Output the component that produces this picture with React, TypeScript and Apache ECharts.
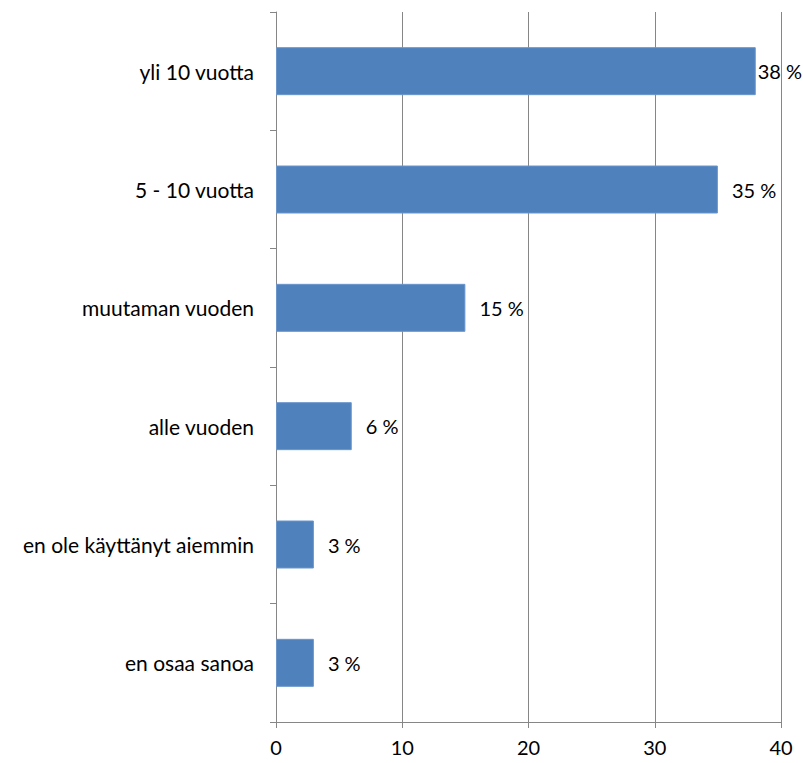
import React, { useEffect, useRef } from "react";
import * as echarts from "echarts";

const categories = [
  "yli 10 vuotta",
  "5 - 10 vuotta",
  "muutaman vuoden",
  "alle vuoden",
  "en ole käyttänyt aiemmin",
  "en osaa sanoa",
];
const values = [38, 35, 15, 6, 3, 3];
const xTicks = [0, 10, 20, 30, 40];

const FONT = "Lato, 'Open Sans', sans-serif";

export default function App() {
  const ref = useRef<HTMLDivElement>(null);
  useEffect(() => {
    const chart = echarts.init(ref.current!, undefined, { renderer: "svg" });
    chart.setOption({
      animation: false,
      grid: { left: 276, right: 22, top: 12, bottom: 41, containLabel: false },
      xAxis: {
        type: "value",
        min: xTicks[0],
        max: xTicks[xTicks.length - 1],
        interval: 10,
        axisLine: { show: true, lineStyle: { color: "#868686", width: 1 } },
        axisTick: { show: true, length: 6, lineStyle: { color: "#868686" } },
        splitLine: { show: true, lineStyle: { color: "#868686", width: 1 } },
        axisLabel: { color: "#000", fontFamily: FONT, fontSize: 20, margin: 15 },
      },
      yAxis: {
        type: "category",
        data: categories,
        inverse: true,
        axisLine: { show: true, lineStyle: { color: "#868686", width: 1 } },
        axisTick: { show: true, length: 6, lineStyle: { color: "#868686" } },
        axisLabel: { color: "#000", fontFamily: FONT, fontSize: 21, margin: 22 },
      },
      series: [
        {
          type: "bar",
          barWidth: 48,
          data: values.map((v, i) => ({
            value: v,
            label: { distance: i === 0 ? 2 : 14 },
          })),
          itemStyle: { color: "#4F81BD", borderColor: "#6A96CC", borderWidth: 1 },
          label: {
            show: true,
            position: "right",
            formatter: (p: any) => `${p.value} %`,
            color: "#000",
            fontFamily: FONT,
            fontSize: 20,
          },
        },
      ],
    });
    return () => chart.dispose();
  }, []);
  return <div ref={ref} style={{ width: 803, height: 763, position: "absolute", left: 0, top: 0 }} />;
}
